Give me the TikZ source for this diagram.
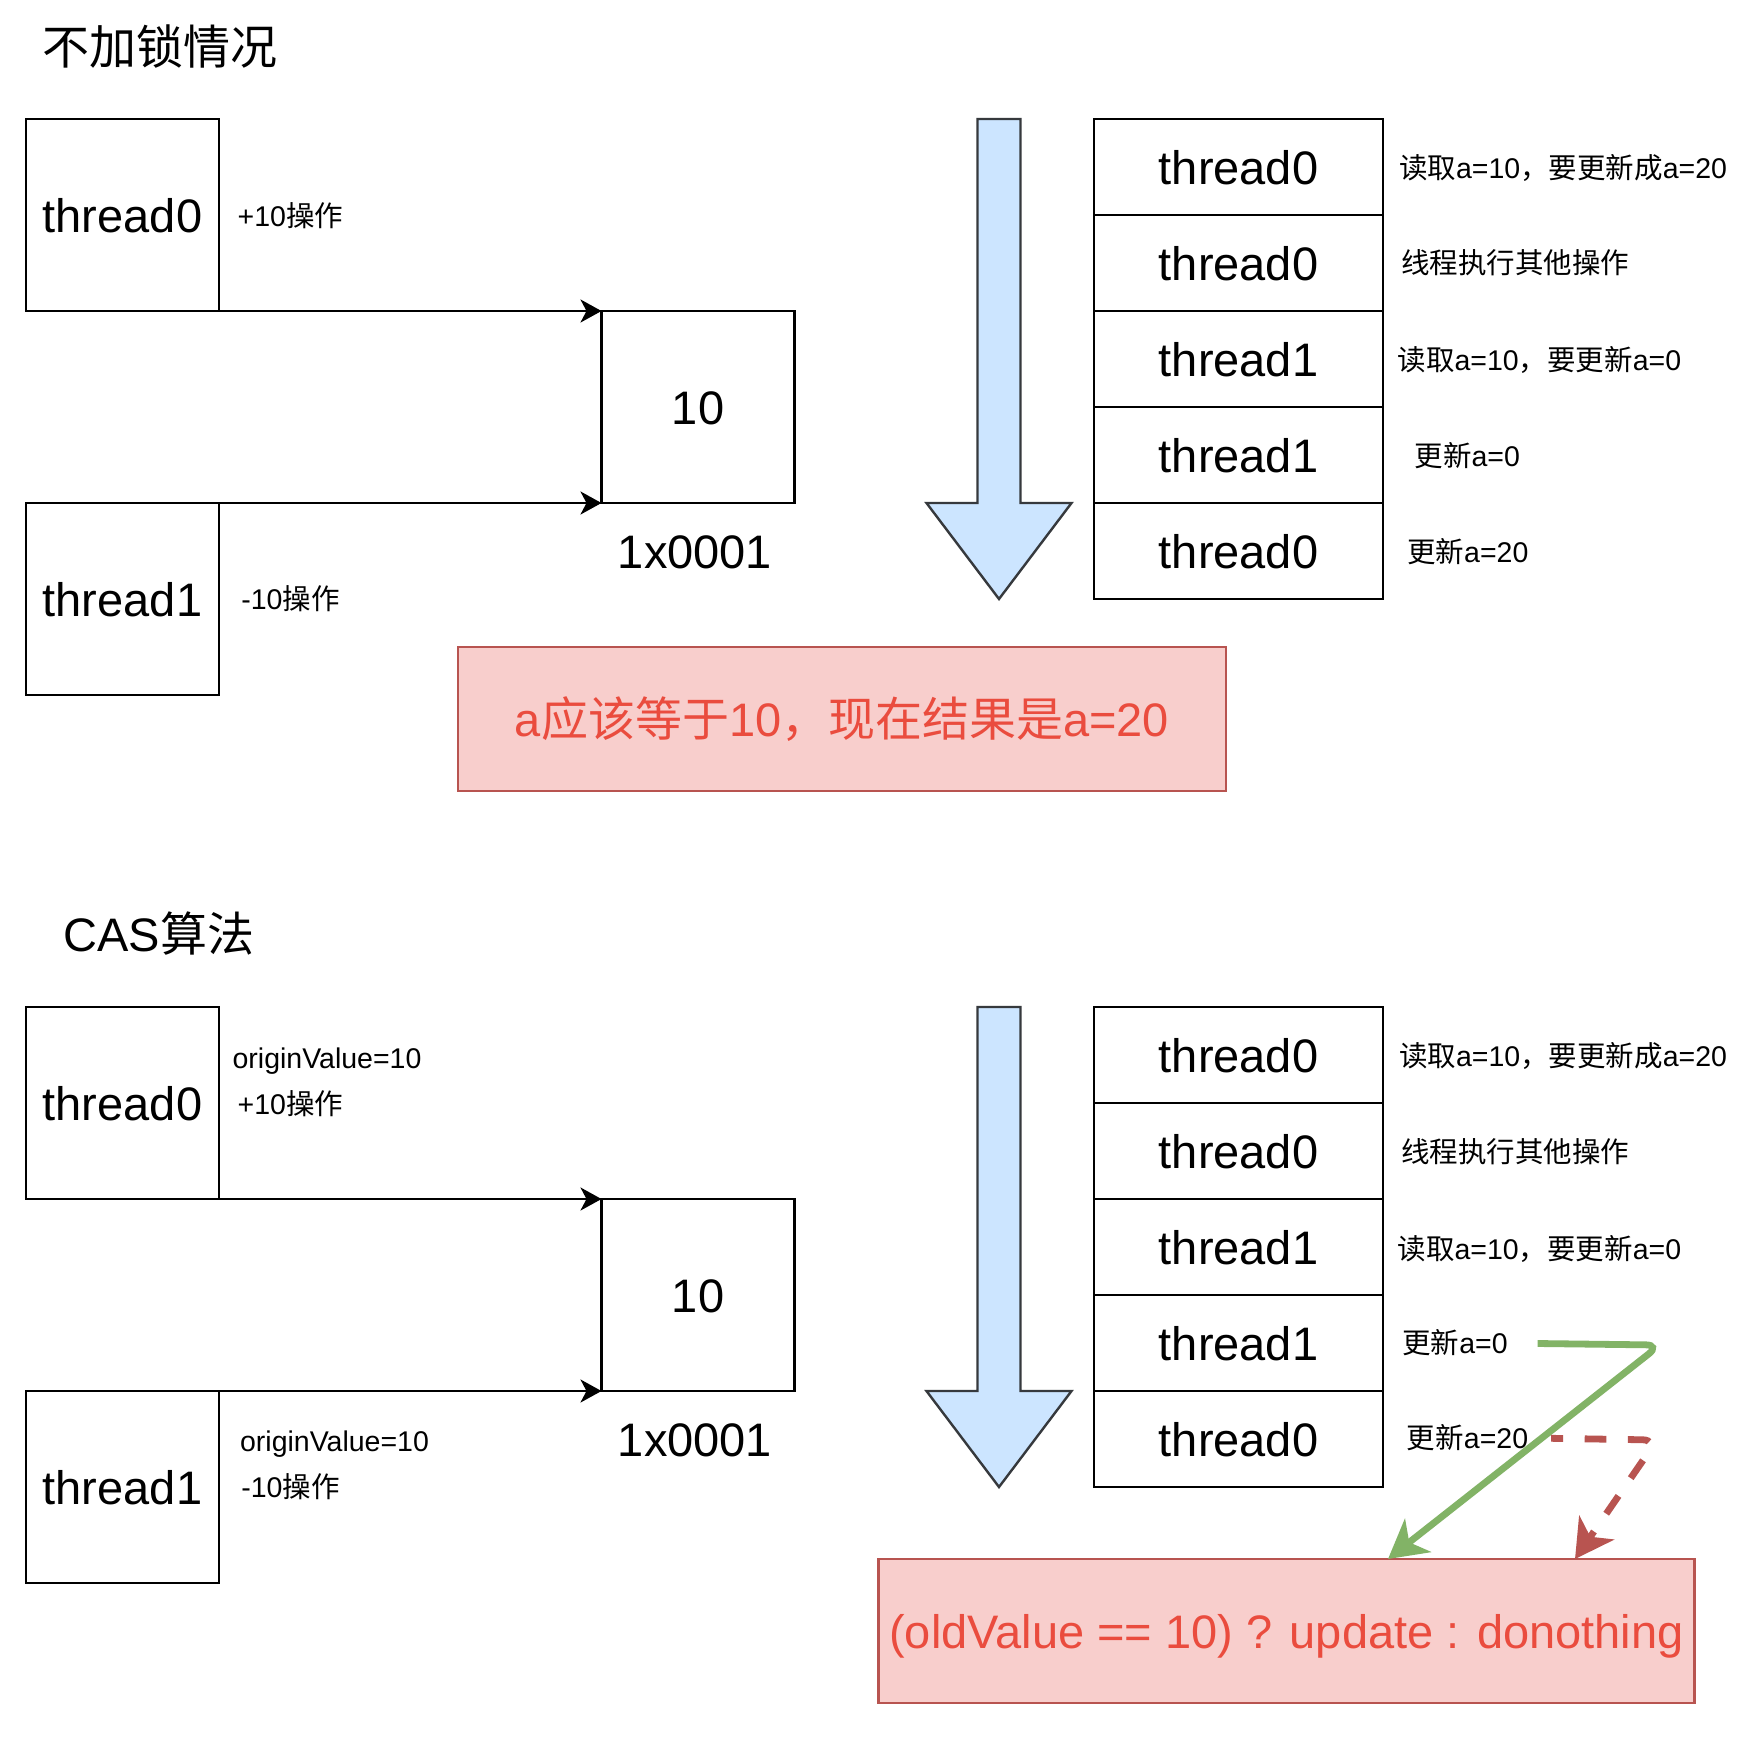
\documentclass[tikz,border=0pt]{standalone}
\usepackage{fontspec}
\setmainfont{Liberation Sans}
\newfontfamily\cjk{Noto Sans CJK SC}
\usetikzlibrary{arrows.meta}
\definecolor{redtxt}{RGB}{234,76,62}
\definecolor{redfill}{HTML}{F8CECC}
\definecolor{redline}{HTML}{B85450}
\definecolor{greenline}{HTML}{82B366}
\definecolor{arrowfill}{HTML}{CCE5FF}
\definecolor{arrowline}{HTML}{36393D}
\tikzset{
 big/.style={font=\fontsize{47}{56}\selectfont, text height=34pt, text depth=0pt, inner sep=0pt, outer sep=0pt},
 small/.style={font=\fontsize{28.5}{34}\selectfont, text height=20.5pt, text depth=0pt, inner sep=0pt, outer sep=0pt},
 sqbox/.style={big, draw=black, line width=2.4pt, minimum width=193pt, minimum height=192pt},
 rowbox/.style={big, draw=black, line width=2.4pt, minimum width=289pt, minimum height=96pt},
 resbox/.style={big, draw=redline, fill=redfill, text=redtxt, line width=2.4pt, minimum height=144pt},
 conn/.style={draw=black, line width=2.4pt, -{Stealth[length=21pt,width=23pt,inset=6pt]}},
 timearrow/.style={draw=arrowline, fill=arrowfill, line width=2.4pt, line join=miter},
 okarrow/.style={draw=greenline, line width=6.8pt, rounded corners=14pt, -{Stealth[length=38pt,width=42pt,inset=11pt]}},
 failarrow/.style={draw=redline, line width=6.8pt, rounded corners=14pt, dash pattern=on 21.6pt off 21.6pt, dash phase=9.6pt, -{Stealth[length=38pt,width=42pt,inset=11pt]}},
}
\begin{document}
\begin{tikzpicture}[x=1pt,y=-1pt]
\fill[white] (0,0) rectangle (1760,1740);
\useasboundingbox (0,0) rectangle (1760,1740);

% ---------------- top section ----------------
\node[big] (title1) at (160,47) {\cjk 不加锁情况};
\node[sqbox] (a0) at (122.5,215) {thread0};
\node[sqbox] (a1) at (122.5,599) {thread1};
\node[sqbox] (av) at (698,407) {10};
\node[big] (aaddr) at (695,551) {1x0001};
\node[small] (aop0) at (290.4,216.4) {+10{\cjk 操作}};
\node[small] (aop1) at (290.4,599.3) {-10{\cjk 操作}};
\draw[conn] (a0.south east) -- (av.north west);
\draw[conn] (a1.north east) -- (av.south west);

\draw[timearrow] (977.5,119) -- (1020.5,119) -- (1020.5,503) -- (1071.5,503) -- (999,599) -- (926.5,503) -- (977.5,503) -- cycle;

\node[rowbox] (ar1) at (1238.5,167) {thread0};
\node[rowbox] (ar2) at (1238.5,263) {thread0};
\node[rowbox] (ar3) at (1238.5,359) {thread1};
\node[rowbox] (ar4) at (1238.5,455) {thread1};
\node[rowbox] (ar5) at (1238.5,551) {thread0};

\node[small] (al1) at (1563,168) {{\cjk 读取}a=10{\cjk ，要更新成}a=20};
\node[small] (al2) at (1515,263.6) {\cjk 线程执行其他操作};
\node[small] (al3) at (1539.4,360.7) {{\cjk 读取}a=10{\cjk ，要更新}a=0};
\node[small] (al4) at (1467.3,456.2) {{\cjk 更新}a=0};
\node[small] (al5) at (1467.8,552.2) {{\cjk 更新}a=20};

\node[resbox, minimum width=768pt] (ares) at (842,719) {a{\cjk 应该等于}10{\cjk ，现在结果是}a=20};

% ---------------- CAS section ----------------
\node[big] (title2) at (159,934) {CAS{\cjk 算法}};
\node[sqbox] (b0) at (122.5,1103) {thread0};
\node[sqbox] (b1) at (122.5,1487) {thread1};
\node[sqbox] (bv) at (698,1295) {10};
\node[big] (baddr) at (695,1439) {1x0001};
\node[small] (borig0) at (327,1058.7) {originValue=10};
\node[small] (bop0) at (290.4,1104.2) {+10{\cjk 操作}};
\node[small] (borig1) at (334.5,1441.6) {originValue=10};
\node[small] (bop1) at (290.4,1487) {-10{\cjk 操作}};
\draw[conn] (b0.south east) -- (bv.north west);
\draw[conn] (b1.north east) -- (bv.south west);

\draw[timearrow] (977.5,1007) -- (1020.5,1007) -- (1020.5,1391) -- (1071.5,1391) -- (999,1487) -- (926.5,1391) -- (977.5,1391) -- cycle;

\node[rowbox] (br1) at (1238.5,1055) {thread0};
\node[rowbox] (br2) at (1238.5,1151) {thread0};
\node[rowbox] (br3) at (1238.5,1247) {thread1};
\node[rowbox] (br4) at (1238.5,1343) {thread1};
\node[rowbox] (br5) at (1238.5,1439) {thread0};

\node[small] (bl1) at (1563,1056) {{\cjk 读取}a=10{\cjk ，要更新成}a=20};
\node[small] (bl2) at (1515,1152) {\cjk 线程执行其他操作};
\node[small] (bl3) at (1539.4,1249) {{\cjk 读取}a=10{\cjk ，要更新}a=0};
\node[small] (bl4) at (1455,1343.5) {{\cjk 更新}a=0};
\node[small] (bl5) at (1467.5,1438.3) {{\cjk 更新}a=20};

\node[resbox, minimum width=816pt] (bres) at (1286.5,1631) {(oldValue == 10) ? update : donothing};

\draw[okarrow] ([xshift=30pt]bl4.east) -- (1660,1345) -- ([xshift=509.5pt]bres.north west);
\draw[failarrow] ([xshift=23pt]bl5.east) -- (1657,1440) -- ([xshift=696.5pt]bres.north west);
\end{tikzpicture}
\end{document}
